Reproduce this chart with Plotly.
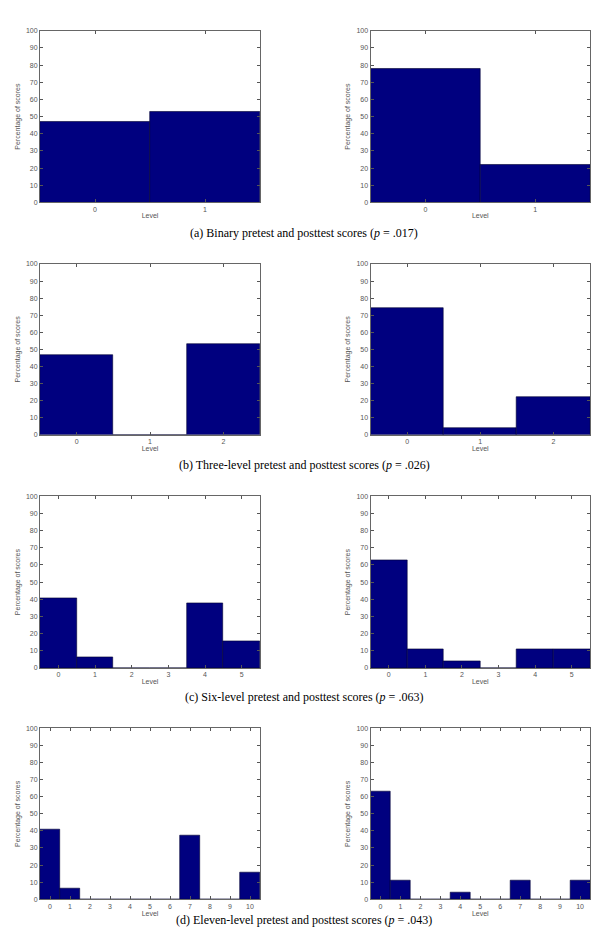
import plotly.graph_objects as go

# Data (percentage of scores per level)
levels_a = [0, 1]
pre_a = [46.9, 53.1]
post_a = [77.8, 22.2]

levels_b = [0, 1, 2]
pre_b = [46.9, 0, 53.1]
post_b = [74.1, 3.7, 22.2]

levels_c = [0, 1, 2, 3, 4, 5]
pre_c = [40.6, 6.3, 0, 0, 37.5, 15.6]
post_c = [63.0, 11.1, 3.7, 0, 11.1, 11.1]

levels_d = [0, 1, 2, 3, 4, 5, 6, 7, 8, 9, 10]
pre_d = [40.6, 6.3, 0, 0, 0, 0, 0, 37.5, 0, 0, 15.6]
post_d = [63.0, 11.1, 0, 0, 3.7, 0, 0, 11.1, 0, 0, 11.1]

captions = [
    "(a) Binary pretest and posttest scores (<i>p</i> = .017)",
    "(b) Three-level pretest and posttest scores (<i>p</i> = .026)",
    "(c) Six-level pretest and posttest scores (<i>p</i> = .063)",
    "(d) Eleven-level pretest and posttest scores (<i>p</i> = .043)",
]

W, H = 603, 929
# pixel layout
col_x = [(40, 260), (370.5, 590)]
row_y = [(27, 200), (262, 434), (496, 669), (730, 902)]
cap_y = [231, 465, 698, 922.5]

rows = [
    (levels_a, pre_a, post_a),
    (levels_b, pre_b, post_b),
    (levels_c, pre_c, post_c),
    (levels_d, pre_d, post_d),
]

fig = go.Figure()
layout = dict(
    width=W, height=H,
    margin=dict(l=0, r=0, t=0, b=0),
    paper_bgcolor="white", plot_bgcolor="white",
    showlegend=False, bargap=0,
    annotations=[],
)

axis_font = dict(family="Liberation Sans, Arial", size=7, color="#555")
idx = 0
for r, (lv, pre, post) in enumerate(rows):
    for c, vals in enumerate([pre, post]):
        idx += 1
        xa = "x" if idx == 1 else f"x{idx}"
        ya = "y" if idx == 1 else f"y{idx}"
        fig.add_trace(go.Bar(
            x=lv, y=vals, width=1,
            marker=dict(color="#00007F", line=dict(color="#000030", width=0.6)),
            xaxis=xa, yaxis=ya, hoverinfo="skip",
        ))
        x0, x1 = col_x[c]
        y0, y1 = row_y[r]
        key_x = "xaxis" if idx == 1 else f"xaxis{idx}"
        key_y = "yaxis" if idx == 1 else f"yaxis{idx}"
        layout[key_x] = dict(
            domain=[x0 / W, x1 / W], anchor=ya,
            range=[-0.5, len(lv) - 0.5],
            tickmode="array", tickvals=lv, ticktext=[str(v) for v in lv],
            ticks="inside", ticklen=3, tickcolor="#555",
            showline=True, linecolor="#666", linewidth=1, mirror="ticks",
            showgrid=False, zeroline=False,
            tickfont=axis_font,
            title=dict(text="Level", font=axis_font, standoff=1),
        )
        layout[key_y] = dict(
            domain=[1 - y1 / H, 1 - y0 / H], anchor=xa,
            range=[0, 100], dtick=10,
            ticks="inside", ticklen=3, tickcolor="#555",
            showline=True, linecolor="#666", linewidth=1, mirror="ticks",
            showgrid=False, zeroline=False,
            tickfont=axis_font,
            title=dict(text="Percentage of scores", font=axis_font, standoff=4),
        )
    layout["annotations"].append(dict(
        text=captions[r], x=304 / W, y=1 - cap_y[r] / H,
        xref="paper", yref="paper", showarrow=False,
        xanchor="center", yanchor="middle",
        font=dict(family="Liberation Serif, Times New Roman", size=12, color="black"),
    ))

fig.update_layout(**layout)
fig.write_html("out.html")
